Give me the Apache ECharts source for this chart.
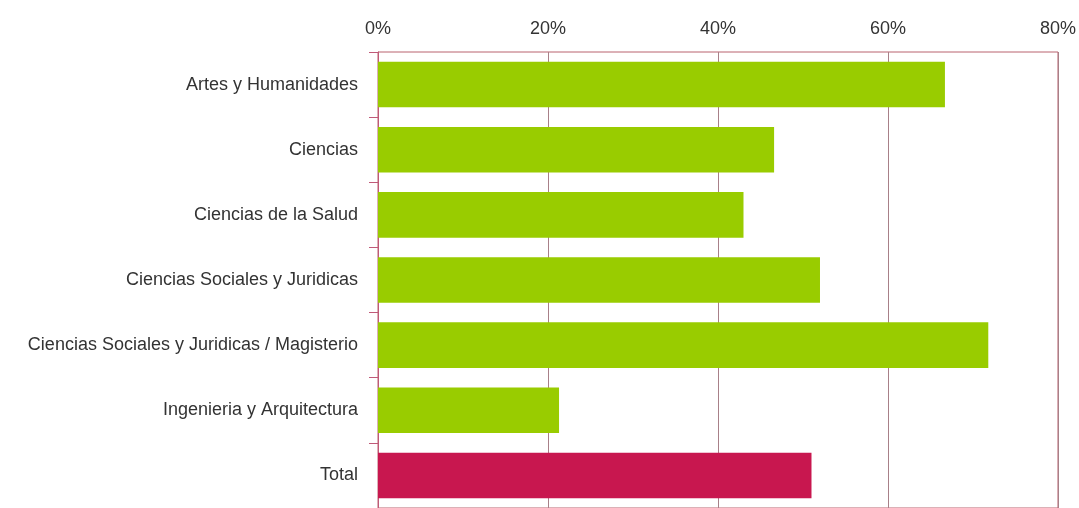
<!DOCTYPE html>
<html><head><meta charset="utf-8">
<script src="https://cdn.jsdelivr.net/npm/echarts@6/dist/echarts.min.js"></script>
<style>html,body{margin:0;padding:0;background:#fff}#c{width:1079px;height:508px}</style>
</head><body><div id="c"></div>
<script>
const categories = ["Artes y Humanidades","Ciencias","Ciencias de la Salud","Ciencias Sociales y Juridicas","Ciencias Sociales y Juridicas / Magisterio","Ingenieria y Arquitectura","Total"];
const values = [66.7, 46.6, 43.0, 52.0, 71.8, 21.3, 51.0];
const xTicks = [0, 20, 40, 60, 80];
const greenColor = '#99cc00';
const totalColor = '#c8174f';

const chart = echarts.init(document.getElementById('c'), null, {renderer:'canvas'});
const fontFam = '"Liberation Sans", Arial, sans-serif';
chart.setOption({
  animation:false,
  grid:{left:378, right:20, top:52, bottom:-5, containLabel:false, show:true, borderColor:'#b9626f', borderWidth:1},
  xAxis:{type:'value', position:'top', min:xTicks[0], max:xTicks[xTicks.length-1], interval:20,
    axisLine:{show:false}, axisTick:{show:false},
    splitLine:{show:true, lineStyle:{color:'#a88088', width:1}},
    axisLabel:{formatter:v=>v+'%', color:'#333', fontSize:18, fontFamily:fontFam, margin:14}},
  yAxis:{type:'category', inverse:true, data:categories,
    axisLine:{show:true, lineStyle:{color:'#c05a78', width:1}},
    axisTick:{show:true, length:9, lineStyle:{color:'#c05a78'}},
    axisLabel:{color:'#333', fontSize:18, fontFamily:fontFam, margin:20}},
  series:[{type:'bar', barCategoryGap:'30%',
    data: values.map((v,i)=>({value:v, itemStyle:{color: categories[i]==='Total'?totalColor:greenColor}}))}]
});
</script></body></html>
